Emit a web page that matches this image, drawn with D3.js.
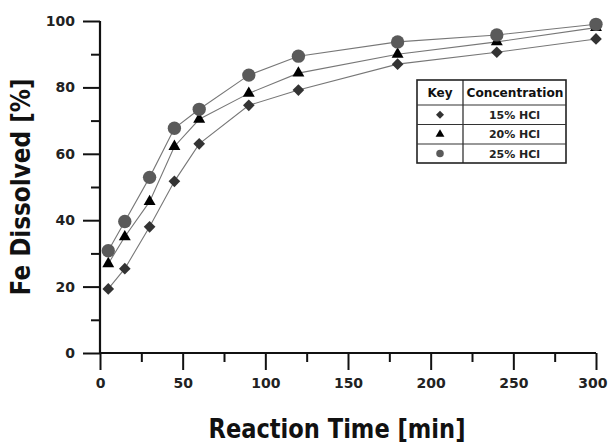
<!DOCTYPE html>
<html>
<head>
<meta charset="utf-8">
<script src="https://cdn.jsdelivr.net/npm/d3@7"></script>
<style>
  html, body { margin: 0; padding: 0; background: #fff; }
  svg { display: block; font-family: "DejaVu Sans", Verdana, sans-serif; }
</style>
</head>
<body>
<svg id="chart" width="608" height="444"></svg>
<script>
const times = [5, 15, 30, 45, 60, 90, 120, 180, 240, 300];
const hcl15 = [19.3, 25.4, 38.0, 51.7, 63.0, 74.6, 79.2, 87.0, 90.6, 94.6];
const hcl20 = [26.9, 35.0, 45.6, 62.2, 70.4, 78.2, 84.3, 90.0, 93.7, 98.0];
const hcl25 = [30.8, 39.6, 52.9, 67.7, 73.4, 83.7, 89.4, 93.7, 95.8, 99.0];
const seriesNames = ["15% HCl", "20% HCl", "25% HCl"];
const xTicks = [0, 50, 100, 150, 200, 250, 300];
const xMinorTicks = [25, 75, 125, 175, 225, 275];
const yTicks = [0, 20, 40, 60, 80, 100];
const yMinorTicks = [10, 30, 50, 70, 90];
const xTitle = "Reaction Time [min]";
const yTitle = "Fe Dissolved [%]";
const legendHeader = ["Key", "Concentration"];

const svg = d3.select("#chart");
const x = d3.scaleLinear().domain([0, 300]).range([100, 596]);
const y = d3.scaleLinear().domain([0, 100]).range([353, 21]);

const series = [
  { name: seriesNames[0], values: hcl15, shape: d3.symbolSquare, rot: 45, size: 68, fill: "#333333", lsize: 32 },
  { name: seriesNames[1], values: hcl20, shape: d3.symbolTriangle, rot: 0, size: 62, fill: "#000000", lsize: 34 },
  { name: seriesNames[2], values: hcl25, shape: d3.symbolCircle, rot: 0, size: 140, fill: "#5a5a5a", lsize: 44 }
];

// Axes
const gx = svg.append("g").attr("transform", `translate(0,${y(0)})`);
gx.call(d3.axisBottom(x).tickValues(xTicks).tickSize(17).tickPadding(8).tickFormat(d3.format("d")));
gx.append("g").call(d3.axisBottom(x).tickValues(xMinorTicks).tickSize(9).tickFormat(""))
  .select(".domain").remove();

const gy = svg.append("g").attr("transform", `translate(${x(0)},0)`);
gy.call(d3.axisLeft(y).tickValues(yTicks).tickSize(17).tickPadding(8).tickFormat(d3.format("d")));
gy.append("g").call(d3.axisLeft(y).tickValues(yMinorTicks).tickSize(9).tickFormat(""))
  .select(".domain").remove();

gx.select(".domain").attr("d", `M${x(0)},0H${x(300)}`);
gy.select(".domain").attr("d", `M0,${y(0)}V${y(100)}`);
svg.selectAll(".domain").attr("stroke", "#111").attr("stroke-width", 2.2);

svg.selectAll(".tick line").attr("stroke", "#111").attr("stroke-width", 2);
svg.selectAll(".tick text")
  .attr("font-size", 14).attr("font-weight", "bold").attr("fill", "#222")
  .attr("font-family", "'DejaVu Sans', Verdana, sans-serif");
// last x label sits at the right edge as in the reference
gx.selectAll(".tick text").filter(d => d === 300).attr("text-anchor", "end").attr("dx", 11);

// Axis titles
svg.append("text")
  .attr("x", 337).attr("y", 438)
  .attr("text-anchor", "middle")
  .attr("font-size", 26).attr("font-weight", "bold").attr("fill", "#111")
  .attr("textLength", 257).attr("lengthAdjust", "spacingAndGlyphs")
  .text(xTitle);

svg.append("text")
  .attr("transform", "translate(30,187) rotate(-90)")
  .attr("text-anchor", "middle")
  .attr("font-size", 26).attr("font-weight", "bold").attr("fill", "#111")
  .attr("textLength", 217).attr("lengthAdjust", "spacingAndGlyphs")
  .text(yTitle);

// Lines
const line = d3.line().x((d, i) => x(times[i])).y(d => y(d));
series.forEach(s => {
  svg.append("path").datum(s.values)
    .attr("d", line).attr("fill", "none")
    .attr("stroke", "#777").attr("stroke-width", 1.1);
});

// Markers
series.forEach(s => {
  svg.append("g").selectAll("path").data(s.values).join("path")
    .attr("transform", (d, i) => `translate(${x(times[i])},${y(d)}) rotate(${s.rot})`)
    .attr("d", d3.symbol().type(s.shape).size(s.size))
    .attr("fill", s.fill);
});

// Legend table
const lg = svg.append("g");
const lx0 = 417, lx1 = 463, lx2 = 566;
const rows = [80, 105, 124.5, 144, 163];
lg.append("rect").attr("x", lx0).attr("y", rows[0]).attr("width", lx2 - lx0).attr("height", rows[4] - rows[0])
  .attr("fill", "#fff").attr("stroke", "#222").attr("stroke-width", 1.6);
lg.append("line").attr("x1", lx1).attr("x2", lx1).attr("y1", rows[0]).attr("y2", rows[4])
  .attr("stroke", "#222").attr("stroke-width", 1.2);
rows.slice(1, 4).forEach(r => {
  lg.append("line").attr("x1", lx0).attr("x2", lx2).attr("y1", r).attr("y2", r)
    .attr("stroke", "#333").attr("stroke-width", 1.1);
});
lg.append("text").attr("x", (lx0 + lx1) / 2).attr("y", 97).attr("text-anchor", "middle")
  .attr("font-size", 12).attr("font-weight", "bold").attr("fill", "#111").text(legendHeader[0]);
lg.append("text").attr("x", (lx1 + lx2) / 2 + 0.5).attr("y", 97).attr("text-anchor", "middle")
  .attr("font-size", 12).attr("font-weight", "bold").attr("fill", "#111")
  .attr("textLength", 97).attr("lengthAdjust", "spacingAndGlyphs").text(legendHeader[1]);
series.forEach((s, i) => {
  const cy = (rows[i + 1] + rows[i + 2]) / 2;
  lg.append("path").attr("transform", `translate(${(lx0 + lx1) / 2},${cy}) rotate(${s.rot})`)
    .attr("d", d3.symbol().type(s.shape).size(s.lsize)).attr("fill", s.fill);
  lg.append("text").attr("x", (lx1 + lx2) / 2).attr("y", cy + 4).attr("text-anchor", "middle")
    .attr("font-size", 11).attr("font-weight", "bold").attr("fill", "#222").text(s.name);
});
</script>
</body>
</html>
